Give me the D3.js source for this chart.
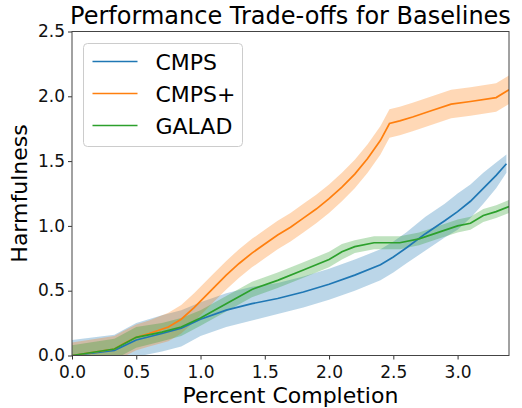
<!DOCTYPE html>
<html>
<head>
<meta charset="utf-8">
<script src="https://cdn.jsdelivr.net/npm/d3@7"></script>
<style>
  body { margin: 0; background: #fff; }
  text { font-family: "DejaVu Sans", sans-serif; }
</style>
</head>
<body>
<svg id="chart"></svg>
<script>
// CMPS
var cmpsX = [0, 0.33, 0.5, 0.7, 0.85, 1.0, 1.2, 1.4, 1.6, 1.8, 2.0, 2.2, 2.4, 2.5, 2.6, 2.75, 2.9, 3.0, 3.1, 3.2, 3.3, 3.38];
var cmpsY = [0, 0.04, 0.12, 0.17, 0.21, 0.28, 0.35, 0.40, 0.44, 0.49, 0.55, 0.62, 0.70, 0.76, 0.83, 0.94, 1.04, 1.11, 1.19, 1.29, 1.39, 1.48];
var cmpsSd = [0.12, 0.12, 0.13, 0.14, 0.14, 0.13, 0.13, 0.13, 0.12, 0.12, 0.12, 0.12, 0.12, 0.12, 0.12, 0.13, 0.13, 0.14, 0.13, 0.12, 0.10, 0.07];

// CMPS+
var plusX = [0, 0.33, 0.4, 0.5, 0.6, 0.75, 0.85, 0.95, 1.0, 1.1, 1.2, 1.3, 1.4, 1.5, 1.6, 1.7, 1.8, 1.9, 2.0, 2.1, 2.2, 2.3, 2.4, 2.47, 2.55, 2.65, 2.8, 2.95, 3.1, 3.3, 3.4];
var plusY = [0, 0.05, 0.09, 0.14, 0.17, 0.22, 0.28, 0.37, 0.42, 0.52, 0.62, 0.71, 0.79, 0.86, 0.93, 0.99, 1.06, 1.13, 1.21, 1.30, 1.40, 1.52, 1.66, 1.79, 1.81, 1.84, 1.89, 1.94, 1.96, 1.99, 2.05];
var plusSd = [0.1, 0.1, 0.1, 0.1, 0.1, 0.11, 0.11, 0.11, 0.11, 0.11, 0.11, 0.11, 0.11, 0.11, 0.11, 0.11, 0.11, 0.11, 0.11, 0.11, 0.11, 0.11, 0.11, 0.11, 0.11, 0.11, 0.11, 0.11, 0.11, 0.11, 0.11];

// GALAD
var galadX = [0, 0.33, 0.5, 0.7, 0.85, 1.0, 1.2, 1.4, 1.6, 1.8, 2.0, 2.1, 2.2, 2.35, 2.55, 2.7, 2.85, 3.0, 3.1, 3.2, 3.3, 3.4];
var galadY = [0, 0.05, 0.14, 0.18, 0.22, 0.29, 0.40, 0.51, 0.58, 0.66, 0.74, 0.80, 0.84, 0.87, 0.87, 0.90, 0.95, 1.00, 1.02, 1.08, 1.11, 1.15];
var galadSd = [0.08, 0.08, 0.08, 0.07, 0.07, 0.06, 0.06, 0.06, 0.06, 0.06, 0.06, 0.06, 0.05, 0.05, 0.05, 0.05, 0.05, 0.05, 0.05, 0.05, 0.05, 0.05];

var seriesNames = ["CMPS", "CMPS+", "GALAD"];
var seriesColors = ["#1f77b4", "#ff7f0e", "#2ca02c"];
var xTicks = [0, 0.5, 1.0, 1.5, 2.0, 2.5, 3.0];
var yTicks = [0, 0.5, 1.0, 1.5, 2.0, 2.5];

function pack(xs, ys, sds) {
  var out = [];
  for (let i = 0; i < xs.length; i++) {
    out.push({ x: xs[i], y: ys[i], lo: ys[i] - sds[i], hi: ys[i] + sds[i] });
  }
  return out;
}
var series = [
  pack(cmpsX, cmpsY, cmpsSd),
  pack(plusX, plusY, plusSd),
  pack(galadX, galadY, galadSd)
];

var width = 522, height = 408;
var margin = { top: 31.5, right: 13, bottom: 52.5, left: 72 };
var w = width - margin.left - margin.right;
var h = height - margin.top - margin.bottom;

var svg = d3.select("#chart").attr("width", width).attr("height", height);
var g = svg.append("g").attr("transform", "translate(" + margin.left + "," + margin.top + ")");

var xscale = d3.scaleLinear().domain([0, 3.4]).range([0, w]);
var yscale = d3.scaleLinear().domain([0, 2.5]).range([h, 0]);

g.append("clipPath").attr("id", "clip")
  .append("rect").attr("width", w).attr("height", h);

var plot = g.append("g").attr("clip-path", "url(#clip)");

var area = d3.area()
  .x(function (d) { return xscale(d.x); })
  .y0(function (d) { return yscale(d.lo); })
  .y1(function (d) { return yscale(d.hi); });
var line = d3.line()
  .x(function (d) { return xscale(d.x); })
  .y(function (d) { return yscale(d.y); });

series.forEach(function (s, i) {
  plot.append("path")
    .attr("d", area(s))
    .attr("fill", seriesColors[i])
    .attr("fill-opacity", 0.3);
});
series.forEach(function (s, i) {
  plot.append("path")
    .attr("d", line(s))
    .attr("fill", "none")
    .attr("stroke", seriesColors[i])
    .attr("stroke-width", 1.7);
});

// axes
var xaxis = d3.axisBottom(xscale).tickValues(xTicks).tickFormat(d3.format(".1f")).tickSize(4).tickPadding(6);
var yaxis = d3.axisLeft(yscale).tickValues(yTicks).tickFormat(d3.format(".1f")).tickSize(4).tickPadding(3);
var gx = g.append("g").attr("transform", "translate(0," + h + ")").call(xaxis);
var gy = g.append("g").call(yaxis);
[gx, gy].forEach(function (a) {
  a.select(".domain").remove();
  a.selectAll("line").attr("stroke", "#333");
  a.selectAll("text").attr("fill", "#111").style("font-size", "17px");
});
gy.selectAll("text").attr("dy", "0.3em");

g.append("rect")
  .attr("width", w).attr("height", h)
  .attr("fill", "none").attr("stroke", "#444").attr("stroke-width", 1);

// titles
svg.append("text")
  .attr("x", margin.left + w / 2).attr("y", 24)
  .attr("text-anchor", "middle")
  .style("font-size", "24px")
  .text("Performance Trade-offs for Baselines");
svg.append("text")
  .attr("x", margin.left + w / 2).attr("y", 403)
  .attr("text-anchor", "middle")
  .style("font-size", "22px")
  .text("Percent Completion");
svg.append("text")
  .attr("transform", "translate(27," + (margin.top + h / 2) + ")rotate(-90)")
  .attr("text-anchor", "middle")
  .style("font-size", "22px")
  .text("Harmfulness");

// legend
var leg = svg.append("g").attr("transform", "translate(83.5,43.5)");
leg.append("rect")
  .attr("width", 159).attr("height", 103).attr("rx", 4)
  .attr("fill", "#fff").attr("fill-opacity", 0.8)
  .attr("stroke", "#ccc");
seriesNames.forEach(function (name, i) {
  var yy = 18 + i * 32;
  leg.append("line")
    .attr("x1", 9).attr("x2", 54).attr("y1", yy).attr("y2", yy)
    .attr("stroke", seriesColors[i]).attr("stroke-width", 1.7);
  leg.append("text")
    .attr("x", 72).attr("y", yy + 8)
    .style("font-size", "22px")
    .text(name);
});
</script>
</body>
</html>
